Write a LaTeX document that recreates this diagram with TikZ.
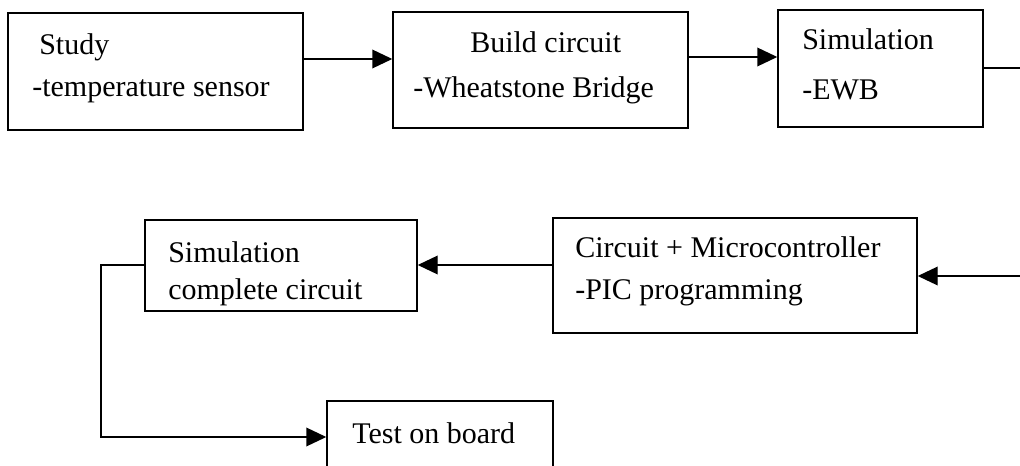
\documentclass[tikz,border=0pt]{standalone}
\usepackage{fontspec}
\setmainfont{Liberation Serif}
\usetikzlibrary{arrows.meta}
\newdimen\px \px=0.75pt
\begin{document}
\begin{tikzpicture}[x=0.75pt,y=-0.75pt,
  stage/.style={draw,line width=1.1pt,rectangle,inner sep=0pt},
  txt/.style={anchor=base west,inner sep=0pt,font=\fontsize{22.5pt}{27pt}\selectfont},
  link/.style={line width=1.1pt},
  arr/.style={link,-{Triangle[length=15pt,width=14pt]}}]
\useasboundingbox (0,0) rectangle (1020,466);
\clip (0,0) rectangle (1020,466);
\fill[white] (0,0) rectangle (1020,466);

% process boxes
\node[stage,minimum width=295\px,minimum height=117\px] (study) at (155.5,71.5) {};
\node[stage,minimum width=295\px,minimum height=116\px] (build) at (540.5,70) {};
\node[stage,minimum width=205\px,minimum height=117\px] (sim) at (880.5,68.5) {};
\node[stage,minimum width=364\px,minimum height=115\px] (mcu) at (735,275.5) {};
\node[stage,minimum width=272\px,minimum height=91\px] (simc) at (281,265.5) {};
\node[stage,minimum width=226\px,minimum height=79\px] (test) at (440,440.5) {};

% box texts
\node[txt] (t1a) at (39,55) {Study};
\node[txt] (t1b) at (32,97) {-temperature sensor};
\node[txt] (t2a) at (470,53) {Build circuit};
\node[txt] (t2b) at (413,98) {-Wheatstone Bridge};
\node[txt] (t3a) at (802,50) {Simulation};
\node[txt] (t3b) at (802,100) {-EWB};
\node[txt] (t4a) at (575,258) {Circuit + Microcontroller};
\node[txt] (t4b) at (575,300) {-PIC programming};
\node[txt] (t5a) at (168,263) {Simulation};
\node[txt] (t5b) at (168,300) {complete circuit};
\node[txt] (t6a) at (352,443) {Test on board};

% free ends of the wrap-around connector
\coordinate (outR) at (1022,68);
\coordinate (inR) at (1022,276);
\coordinate (bend) at (101,265);

% connectors
\draw[arr] (study.east |- 0,59) -- (build.west |- 0,59);
\draw[arr] (build.east |- 0,57) -- (sim.west |- 0,57);
\draw[link] (sim.east |- outR) -- (outR);
\draw[arr] (inR) -- (mcu.east |- inR);
\draw[arr] (mcu.west |- 0,265) -- (simc.east |- 0,265);
\draw[arr] (simc.west |- bend) -- (bend) |- (test.west |- 0,437);
\end{tikzpicture}
\end{document}
